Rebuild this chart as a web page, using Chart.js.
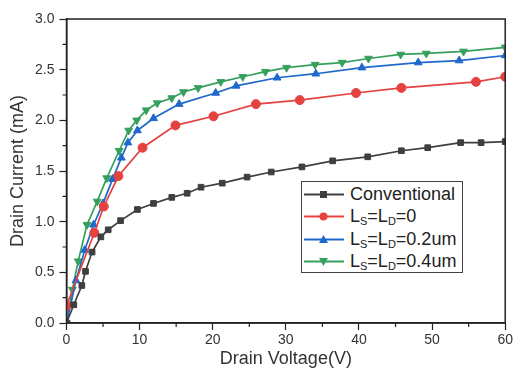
<!DOCTYPE html>
<html>
<head>
<meta charset="utf-8">
<script src="https://cdn.jsdelivr.net/npm/chart.js@4.4.0/dist/chart.umd.min.js"></script>
<style>
  body { margin: 0; background: #fff; }
  #wrap { position: relative; width: 515px; height: 372px; }
  #legend {
    position: absolute; left: 301px; top: 181px; width: 162px; height: 92px;
    border: 1px solid #444; background: #fff; box-sizing: border-box;
    font-family: "Liberation Sans", Arial, sans-serif; font-size: 18px; color: #222;
    padding-top: 1px;
  }
  .row { display: flex; align-items: center; height: 22.5px; white-space: nowrap; }
  .row svg { flex: none; margin-left: 1px; margin-right: 5px; }
  .row sub { font-size: 11px; vertical-align: -3px; line-height: 0; }
</style>
</head>
<body>
<div id="wrap">
  <canvas id="chart" width="515" height="372"></canvas>
  <div id="legend"></div>
</div>
<script>
// Series (Drain Voltage in V, Drain Current in mA)
const convV = [0, 1.0, 2.1, 2.6, 3.5, 4.7, 5.7, 7.4, 9.7, 11.9, 14.4, 16.5, 18.4, 21.3, 24.7, 28.0, 32.2, 36.4, 41.2, 45.8, 49.4, 53.9, 56.7, 60];
const convI = [0, 0.18, 0.37, 0.51, 0.70, 0.85, 0.92, 1.01, 1.12, 1.18, 1.24, 1.28, 1.34, 1.38, 1.44, 1.49, 1.54, 1.60, 1.64, 1.70, 1.73, 1.78, 1.78, 1.79];

const redV = [0, 3.8, 5.1, 7.1, 10.4, 14.9, 20.1, 25.9, 31.9, 39.6, 45.8, 56.0, 60];
const redI = [0.17, 0.89, 1.15, 1.45, 1.73, 1.95, 2.04, 2.16, 2.20, 2.27, 2.32, 2.38, 2.43];

const blueV = [0, 1.3, 2.5, 3.7, 5.0, 6.3, 7.5, 8.4, 9.7, 11.9, 15.4, 20.4, 23.2, 28.8, 34.1, 40.4, 48.1, 53.7, 60];
const blueI = [0, 0.42, 0.72, 0.97, 1.18, 1.42, 1.63, 1.78, 1.90, 2.02, 2.16, 2.27, 2.34, 2.42, 2.46, 2.52, 2.57, 2.59, 2.64];

const greenV = [0, 0.8, 1.6, 2.8, 4.2, 5.5, 7.2, 8.5, 9.6, 10.9, 12.4, 14.4, 16.0, 18.0, 21.1, 24.1, 27.2, 30.1, 34.0, 37.7, 41.3, 45.7, 49.2, 54.3, 60];
const greenI = [0, 0.33, 0.61, 0.97, 1.20, 1.43, 1.70, 1.90, 2.00, 2.10, 2.17, 2.22, 2.28, 2.32, 2.38, 2.43, 2.48, 2.52, 2.55, 2.57, 2.61, 2.65, 2.66, 2.68, 2.72];

const seriesNames = ['Conventional', 'L<sub>S</sub>=L<sub>D</sub>=0', 'L<sub>S</sub>=L<sub>D</sub>=0.2um', 'L<sub>S</sub>=L<sub>D</sub>=0.4um'];
const colors = ['#3f3f3f', '#e5413f', '#1f68cc', '#35a05c'];

const xTicks = [0, 10, 20, 30, 40, 50, 60];
const yTicks = [0, 0.5, 1.0, 1.5, 2.0, 2.5, 3.0];

const FONT = '"Liberation Sans", Arial, sans-serif';

function toPoints(xs, ys) {
  return xs.map((x, i) => ({ x: x, y: ys[i] }));
}

function makeSet(i, xs, ys, style, rot) {
  return {
    label: seriesNames[i].replace(/<\/?sub>/g, ''),
    data: toPoints(xs, ys),
    borderColor: colors[i],
    backgroundColor: colors[i],
    borderWidth: 1.7,
    pointStyle: style,
    pointRotation: rot || 0,
    pointRadius: style === 'rect' ? 4 : 4.5,
    pointBorderWidth: 1,
    tension: 0
  };
}

// Box round the plot and the minor ticks
const framePlugin = {
  id: 'frame',
  afterDraw(chart) {
    const { ctx, chartArea: a, scales } = chart;
    ctx.save();
    ctx.strokeStyle = '#222';
    ctx.lineWidth = 1.5;
    ctx.strokeRect(a.left, a.top, a.right - a.left, a.bottom - a.top);
    ctx.lineWidth = 1.2;
    ctx.beginPath();
    for (let v = 0.25; v < 3; v += 0.5) {
      const py = scales.y.getPixelForValue(v);
      ctx.moveTo(a.left - 4, py); ctx.lineTo(a.left, py);
    }
    for (let v = 5; v < 60; v += 10) {
      const px = scales.x.getPixelForValue(v);
      ctx.moveTo(px, a.bottom); ctx.lineTo(px, a.bottom + 4);
    }
    ctx.stroke();
    ctx.restore();
  }
};

const chart = new Chart(document.getElementById('chart'), {
  type: 'line',
  data: {
    datasets: [
      makeSet(0, convV, convI, 'rect'),
      makeSet(1, redV, redI, 'circle'),
      makeSet(2, blueV, blueI, 'triangle'),
      makeSet(3, greenV, greenI, 'triangle', 180)
    ]
  },
  options: {
    responsive: false,
    animation: false,
    layout: { padding: { top: 19, right: 8, left: 0, bottom: 0 } },
    plugins: { legend: { display: false }, tooltip: { enabled: false } },
    scales: {
      x: {
        type: 'linear', min: 0, max: 60,
        afterBuildTicks: s => { s.ticks = xTicks.map(v => ({ value: v })); },
        afterFit: s => { s.height = 49; },
        grid: { drawOnChartArea: false, tickLength: 7, color: '#222', tickWidth: 1.2 },
        border: { color: '#222', width: 1.5 },
        ticks: { color: '#333', font: { family: FONT, size: 14 }, padding: 2, maxRotation: 0 },
        title: { display: true, text: 'Drain Voltage(V)', color: '#333', font: { family: FONT, size: 18 }, padding: { top: 2, bottom: 2 } }
      },
      y: {
        min: 0, max: 3,
        afterBuildTicks: s => { s.ticks = yTicks.map(v => ({ value: v })); },
        afterFit: s => { s.width = 66.5; },
        grid: { drawOnChartArea: false, tickLength: 7, color: '#222', tickWidth: 1.2 },
        border: { color: '#222', width: 1.5 },
        ticks: { color: '#333', font: { family: FONT, size: 14 }, padding: 5, callback: v => v.toFixed(1) },
        title: { display: true, text: 'Drain Current (mA)', color: '#333', font: { family: FONT, size: 18 }, padding: { top: 7, bottom: 4 } }
      }
    }
  },
  plugins: [framePlugin]
});

// HTML legend so the subscripts stay real text
function markerSvg(i) {
  const c = colors[i];
  let m;
  if (i === 0) m = `<rect x="17" y="4" width="7" height="7" fill="${c}"/>`;
  else if (i === 1) m = `<circle cx="20.5" cy="7.5" r="4" fill="${c}"/>`;
  else if (i === 2) m = `<polygon points="20.5,3 25,11 16,11" fill="${c}"/>`;
  else m = `<polygon points="16,4 25,4 20.5,12" fill="${c}"/>`;
  return `<svg width="42" height="15"><line x1="1" y1="7.5" x2="41" y2="7.5" stroke="${c}" stroke-width="1.8"/>${m}</svg>`;
}
document.getElementById('legend').innerHTML = seriesNames
  .map((n, i) => `<div class="row">${markerSvg(i)}<span>${n}</span></div>`).join('');
</script>
</body>
</html>
